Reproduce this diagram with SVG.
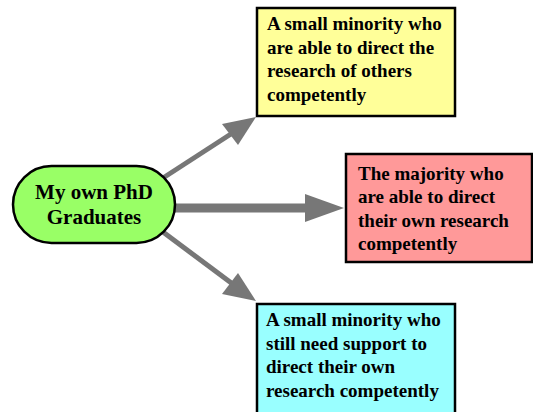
<svg xmlns="http://www.w3.org/2000/svg" width="533" height="412" viewBox="0 0 533 412">
<style>
.box{stroke:#000;stroke-width:2.5}
.t{font-family:"Liberation Serif",serif;font-weight:bold;font-size:19px;fill:#000}
.c{font-family:"Liberation Serif",serif;font-weight:bold;font-size:21px;fill:#000;text-anchor:middle}
.ln{stroke:#777;fill:none}
.hd{fill:#777}
</style>
<rect width="533" height="412" fill="#fff"/>
<g id="connectors">
<line class="ln" x1="163" y1="178" x2="234" y2="132" stroke-width="5"/>
<polygon class="hd" points="256,117 222,124 238,145"/>
<line class="ln" x1="175" y1="208" x2="308" y2="208" stroke-width="9"/>
<polygon class="hd" points="344,208 305,194 305,222"/>
<line class="ln" x1="163" y1="232" x2="234" y2="285" stroke-width="5"/>
<polygon class="hd" points="256,301 238,273 222,294"/>
</g>
<g id="grad">
<rect class="box" x="13" y="166" width="162" height="77" rx="38.5" fill="#99ff66"/>
<text class="c" x="94" y="199">My own PhD</text>
<text class="c" x="94" y="224">Graduates</text>
</g>
<g id="minority-top">
<rect class="box" x="257" y="8" width="198" height="108" fill="#ffff99"/>
<text class="t" x="267" y="30">A small minority who</text>
<text class="t" x="267" y="54">are able to direct the</text>
<text class="t" x="267" y="77">research of others</text>
<text class="t" x="267" y="101">competently</text>
</g>
<g id="majority">
<rect class="box" x="346" y="154" width="186" height="108" fill="#ff9999"/>
<text class="t" x="358" y="180">The majority who</text>
<text class="t" x="358" y="203">are able to direct</text>
<text class="t" x="358" y="227">their own research</text>
<text class="t" x="358" y="250">competently</text>
</g>
<g id="minority-bottom">
<rect class="box" x="257" y="304" width="198" height="110" fill="#99ffff"/>
<text class="t" x="266" y="326">A small minority who</text>
<text class="t" x="266" y="350">still need support to</text>
<text class="t" x="266" y="373">direct their own</text>
<text class="t" x="266" y="397">research competently</text>
</g>
</svg>
